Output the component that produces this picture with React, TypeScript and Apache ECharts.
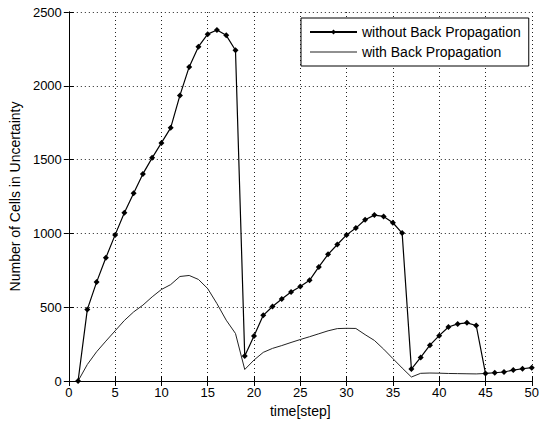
import React, { useEffect, useRef } from "react";
import * as echarts from "echarts";

const steps = [1, 2, 3, 4, 5, 6, 7, 8, 9, 10, 11, 12, 13, 14, 15, 16, 17, 18, 19, 20, 21, 22, 23, 24, 25, 26, 27, 28, 29, 30, 31, 32, 33, 34, 35, 36, 37, 38, 39, 40, 41, 42, 43, 44, 45, 46, 47, 48, 49, 50];

const withoutBP = [0, 485, 670, 835, 990, 1140, 1272, 1403, 1512, 1613, 1715, 1935, 2128, 2265, 2350, 2378, 2342, 2241, 170, 305, 445, 505, 555, 603, 640, 682, 773, 858, 925, 990, 1036, 1092, 1124, 1115, 1072, 1002, 81, 160, 243, 307, 366, 387, 394, 376, 51, 56, 61, 74, 83, 90];

const withBP = [0, 112, 198, 270, 340, 410, 468, 514, 570, 620, 653, 708, 715, 688, 626, 524, 412, 322, 78, 142, 194, 221, 240, 261, 281, 300, 320, 340, 355, 357, 356, 314, 275, 216, 152, 88, 27, 52, 54, 53, 51, 50, 49, 48, 51];

const xTicks = { min: 0, max: 50, interval: 5 };
const yTicks = { min: 0, max: 2500, interval: 500 };

const seriesNames = ["without Back Propagation", "with Back Propagation"];
const xName = "time[step]";
const yName = "Number of Cells in Uncertainty";

const FONT = "'Liberation Sans', Arial, Helvetica, sans-serif";

export default function App() {
  const ref = useRef<HTMLDivElement>(null);
  useEffect(() => {
    if (!ref.current) return;
    const chart = echarts.init(ref.current, null, { renderer: "svg" });
    const dataA = steps.map((s, i) => [s, withoutBP[i]]);
    const dataB = withBP.map((v, i) => [steps[i], v]);
    const axisLine = { show: true, lineStyle: { color: "#000", width: 1 } };
    const tick = { show: true, inside: true, length: 5, lineStyle: { color: "#000" } };
    const split = { show: true, lineStyle: { color: "#222", width: 1, type: [1, 3] as any } };
    const plain = (v: number) => String(v);
    chart.setOption({
      animation: false,
      backgroundColor: "#fff",
      textStyle: { fontFamily: FONT },
      grid: { left: 65, right: 5, top: 12, bottom: 43, containLabel: false },
      legend: {
        show: true,
        orient: "vertical",
        left: 301,
        top: 18,
        padding: [6, 8, 6, 8],
        itemGap: 4,
        itemWidth: 47,
        itemHeight: 6,
        borderColor: "#000",
        borderWidth: 1,
        backgroundColor: "#fff",
        textStyle: { fontFamily: FONT, fontSize: 14, color: "#000", lineHeight: 16 },
        data: [
          { name: seriesNames[0] },
          { name: seriesNames[1], icon: "path://M0,0H100V1.6H0Z" },
        ],
      },
      xAxis: [
        {
          type: "value",
          ...xTicks,
          position: "bottom",
          name: xName,
          nameLocation: "middle",
          nameGap: 22,
          nameTextStyle: { fontFamily: FONT, fontSize: 14, color: "#000" },
          axisLine,
          axisTick: tick,
          axisLabel: { fontFamily: FONT, fontSize: 13, color: "#000", margin: 5, formatter: plain },
          splitLine: split,
        },
        {
          type: "value",
          ...xTicks,
          position: "top",
          axisLine,
          axisTick: tick,
          axisLabel: { show: false },
          splitLine: { show: false },
        },
      ],
      yAxis: [
        {
          type: "value",
          ...yTicks,
          position: "left",
          name: yName,
          nameLocation: "middle",
          nameGap: 45,
          nameTextStyle: { fontFamily: FONT, fontSize: 14, color: "#000" },
          axisLine,
          axisTick: tick,
          axisLabel: { fontFamily: FONT, fontSize: 13, color: "#000", margin: 7, formatter: plain },
          splitLine: split,
        },
        {
          type: "value",
          ...yTicks,
          position: "right",
          axisLine,
          axisTick: tick,
          axisLabel: { show: false },
          splitLine: { show: false },
        },
      ],
      series: [
        {
          name: seriesNames[1],
          type: "line",
          data: dataB,
          showSymbol: false,
          symbol: "none",
          lineStyle: { color: "#222", width: 1 },
          itemStyle: { color: "#222" },
          z: 2,
        },
        {
          name: seriesNames[0],
          type: "line",
          data: dataA,
          symbol: "diamond",
          symbolSize: 6,
          lineStyle: { color: "#000", width: 1.2 },
          itemStyle: { color: "#000" },
          z: 3,
        },
      ],
    });
    return () => chart.dispose();
  }, []);
  return (
    <div
      ref={ref}
      style={{ position: "fixed", left: 0, top: 0, width: 542, height: 424, background: "#fff" }}
    />
  );
}
